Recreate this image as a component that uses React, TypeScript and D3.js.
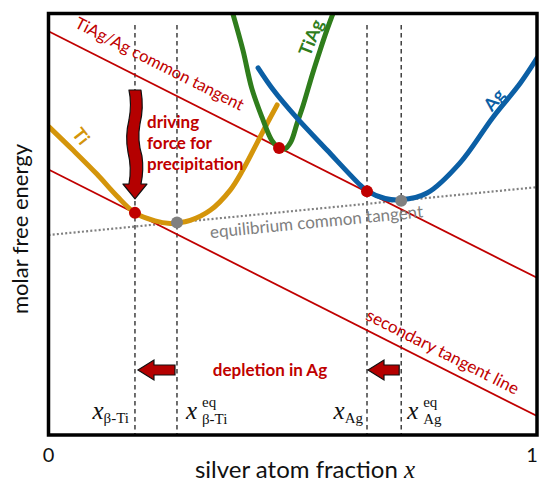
import React from 'react';
import * as d3 from 'd3';

const W = 539;
const H = 485;

// silver atom fraction x vs molar free energy (arbitrary units)
const tiCurve: [number, number][] = [
  [0.001, 0.731], [0.05, 0.676], [0.099, 0.619], [0.14, 0.567], [0.177, 0.527],
  [0.218, 0.508], [0.249, 0.502], [0.263, 0.503], [0.29, 0.509], [0.331, 0.533],
  [0.372, 0.581], [0.398, 0.629], [0.427, 0.693], [0.448, 0.74], [0.468, 0.783],
];
const tiAgCurve: [number, number][] = [
  [0.376, 1.005], [0.398, 0.913], [0.416, 0.823], [0.437, 0.754], [0.457, 0.699],
  [0.47, 0.683], [0.484, 0.679], [0.496, 0.695], [0.509, 0.74], [0.521, 0.781],
  [0.541, 0.859], [0.556, 0.913], [0.57, 0.961], [0.584, 1.005],
];
const agCurve: [number, number][] = [
  [0.429, 0.871], [0.46, 0.819], [0.507, 0.754], [0.57, 0.676], [0.638, 0.593],
  [0.652, 0.579], [0.689, 0.561], [0.722, 0.558], [0.775, 0.574], [0.842, 0.645],
  [0.91, 0.754], [0.966, 0.835], [1.0, 0.894],
];

const commonTangent: [number, number][] = [[0, 0.958], [1, 0.373]];
const secondaryTangent: [number, number][] = [[0, 0.63], [1, 0.045]];
const eqTangent: [number, number][] = [[0, 0.4745], [1, 0.588]];

// x_β-Ti, x_β-Ti^eq, x_Ag, x_Ag^eq
const markX = [0.177, 0.263, 0.652, 0.722];
const redDots: [number, number][] = [[0.177, 0.527], [0.472, 0.681], [0.652, 0.578]];
const grayDots: [number, number][] = [[0.263, 0.504], [0.722, 0.556]];
const xTicks = [0, 1];

const RED = '#c00000';
const ARROW = '#b40000';
const ORANGE = '#d4950b';
const GREEN = '#2f7d1c';
const BLUE = '#0b5fa5';
const GRAY = '#808080';
const SANS = 'Lato, "Open Sans", sans-serif';
const SERIF = '"Liberation Serif", serif';

export default function App() {
  const x = d3.scaleLinear().domain([0, 1]).range([48.5, 537]);
  const y = d3.scaleLinear().domain([0, 1]).range([435, 13.5]);

  const curve = d3.line<[number, number]>()
    .x(d => x(d[0]))
    .y(d => y(d[1]))
    .curve(d3.curveCatmullRom.alpha(0.5));
  const straight = d3.line<[number, number]>().x(d => x(d[0])).y(d => y(d[1]));

  const slope = (p: [number, number][]) =>
    (y(p[1][1]) - y(p[0][1])) / (x(p[1][0]) - x(p[0][0]));
  const angle = (p: [number, number][]) => (Math.atan(slope(p)) * 180) / Math.PI;
  const lineMid = (p: [number, number][], px: number) =>
    y(p[0][1]) + slope(p) * (px - x(0));

  // big downward arrow (driving force)
  const ax = x(markX[0]);
  const aTop = 90;
  const aHead = 184;
  const aTip = y(redDots[0][1]) - 14;
  const bigArrow = `M${ax - 6},${aTop} L${ax + 6},${aTop}
    Q${ax + 9},${aTop + 18} ${ax + 5},${aTop + 34}
    Q${ax + 2},${aTop + 50} ${ax + 7},${aTop + 66}
    Q${ax + 9},${aTop + 80} ${ax + 6},${aHead}
    L${ax + 12},${aHead} L${ax},${aTip} L${ax - 12},${aHead} L${ax - 6},${aHead}
    Q${ax - 3},${aTop + 78} ${ax - 7},${aTop + 62}
    Q${ax - 10},${aTop + 46} ${ax - 6},${aTop + 30}
    Q${ax - 3},${aTop + 14} ${ax - 6},${aTop} Z`;

  const smallArrow = (tipX: number, tailX: number, cy: number) => {
    const head = tipX + 16;
    return `M${tipX},${cy} L${head},${cy - 10} L${head},${cy - 5} L${tailX},${cy - 5}
      L${tailX},${cy + 5} L${head},${cy + 5} L${head},${cy + 10} Z`;
  };

  return (
    <svg width={W} height={H} style={{ position: 'absolute', left: 0, top: 0, background: '#fff' }}>
      <defs>
        <clipPath id="plot">
          <rect x={x(0)} y={y(1)} width={x(1) - x(0)} height={y(0) - y(1)} />
        </clipPath>
      </defs>

      {/* dashed composition guides */}
      {markX.map((m, i) => (
        <line key={i} x1={x(m)} x2={x(m)} y1={25} y2={y(0)}
          stroke="#222" strokeWidth={1.3} strokeDasharray="4.5,3.5" />
      ))}

      <g clipPath="url(#plot)">
        <path d={straight(eqTangent) || ''} stroke={GRAY} strokeWidth={2.2}
          strokeDasharray="2,2.2" fill="none" />
        <path d={straight(commonTangent) || ''} stroke={RED} strokeWidth={1.8} fill="none" />
        <path d={straight(secondaryTangent) || ''} stroke={RED} strokeWidth={1.8} fill="none" />
        <path d={curve(tiCurve) || ''} stroke={ORANGE} strokeWidth={5} fill="none" strokeLinecap="round" />
        <path d={curve(tiAgCurve) || ''} stroke={GREEN} strokeWidth={5} fill="none" strokeLinecap="round" />
        <path d={curve(agCurve) || ''} stroke={BLUE} strokeWidth={5} fill="none" strokeLinecap="round" />
      </g>

      {redDots.map((d, i) => (
        <circle key={'r' + i} cx={x(d[0])} cy={y(d[1])} r={6} fill={RED} />
      ))}
      {grayDots.map((d, i) => (
        <circle key={'g' + i} cx={x(d[0])} cy={y(d[1])} r={6} fill={GRAY} />
      ))}

      {/* arrows */}
      <path d={bigArrow} fill={ARROW} stroke="#111" strokeWidth={1.2} strokeLinejoin="round" />
      <path d={smallArrow(x(markX[0]) + 3, x(markX[1]) - 2, 370)} fill={ARROW} stroke="#111" strokeWidth={1.2} />
      <path d={smallArrow(x(markX[2]) + 1, x(markX[3]) - 2, 370)} fill={ARROW} stroke="#111" strokeWidth={1.2} />

      {/* frame */}
      <rect x={x(0)} y={y(1)} width={x(1) - x(0)} height={y(0) - y(1)}
        fill="none" stroke="#000" strokeWidth={3.5} />

      {/* annotations */}
      <g fontFamily={SANS}>
        <text transform={`translate(157,${lineMid(commonTangent, 157) - 17}) rotate(${angle(commonTangent)})`}
          textAnchor="middle" fill={RED} fontSize={16.5}>TiAg/Ag common tangent</text>
        <text transform={`translate(440,${lineMid(secondaryTangent, 440) - 10}) rotate(${angle(secondaryTangent)})`}
          textAnchor="middle" fill={RED} fontSize={17}>secondary tangent line</text>
        <text transform={`translate(317,${lineMid(eqTangent, 317) + 19}) rotate(${angle(eqTangent)})`}
          textAnchor="middle" fill={GRAY} fontSize={17}>equilibrium common tangent</text>

        <text x={147} fill={RED} fontSize={17} fontWeight="bold">
          <tspan x={147} y={128}>driving</tspan>
          <tspan x={147} y={149}>force for</tspan>
          <tspan x={147} y={170}>precipitation</tspan>
        </text>
        <text x={270} y={376} textAnchor="middle" fill={RED} fontSize={17} fontWeight="bold">depletion in Ag</text>

        <text transform="translate(76,140) rotate(52)" textAnchor="middle" fill={ORANGE} fontSize={18} fontWeight="bold">Ti</text>
        <text transform="translate(317,40) rotate(-68)" textAnchor="middle" fill={GREEN} fontSize={18} fontWeight="bold">TiAg</text>
        <text transform="translate(499,104) rotate(-50)" textAnchor="middle" fill={BLUE} fontSize={18} fontWeight="bold">Ag</text>

        {xTicks.map(t => (
          <text key={t} x={Math.min(x(t), 532)} y={462} textAnchor="middle" fontSize={20} fill="#111">{t}</text>
        ))}
        <text x={305} y={478} textAnchor="middle" fontSize={24} fill="#111">
          silver atom fraction <tspan fontFamily={SERIF} fontStyle="italic" fontSize={25}>x</tspan>
        </text>
        <text transform="translate(28,229) rotate(-90)" textAnchor="middle" fontSize={22} fill="#111">
          molar free energy
        </text>
      </g>

      {/* composition labels */}
      <g fontFamily={SERIF} fill="#111">
        <text x={x(markX[0]) - 6} y={419} textAnchor="end">
          <tspan fontStyle="italic" fontSize={25}>x</tspan>
          <tspan fontSize={15} dy={4}>β-Ti</tspan>
        </text>
        <text x={x(markX[1]) + 9} y={419} fontStyle="italic" fontSize={25}>x</text>
        <text x={x(markX[1]) + 25} y={407} fontSize={15}>eq</text>
        <text x={x(markX[1]) + 25} y={424} fontSize={15}>β-Ti</text>

        <text x={x(markX[2]) - 4} y={419} textAnchor="end">
          <tspan fontStyle="italic" fontSize={25}>x</tspan>
          <tspan fontSize={15} dy={4}>Ag</tspan>
        </text>
        <text x={x(markX[3]) + 6} y={419} fontStyle="italic" fontSize={25}>x</text>
        <text x={x(markX[3]) + 22} y={407} fontSize={15}>eq</text>
        <text x={x(markX[3]) + 22} y={424} fontSize={15}>Ag</text>
      </g>
    </svg>
  );
}
